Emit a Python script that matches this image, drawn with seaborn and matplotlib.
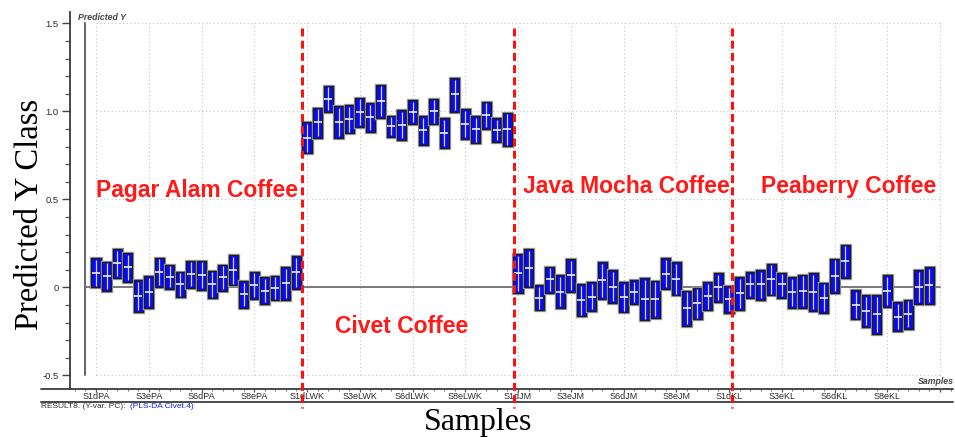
import numpy as np
import pandas as pd
import matplotlib
matplotlib.use("Agg")
import matplotlib.pyplot as plt
import matplotlib.patheffects as pe
from matplotlib.ticker import FixedLocator, MultipleLocator
import seaborn as sns

# ---------------- data ----------------
group_codes = ["PA", "LWK", "JM", "KL"]
group_names = ["Pagar Alam Coffee", "Civet Coffee", "Java Mocha Coffee", "Peaberry Coffee"]
tick_labels = ["S1dPA", "S3ePA", "S6dPA", "S8ePA",
               "S1dLWK", "S3eLWK", "S6dLWK", "S8eLWK",
               "S1dJM", "S3eJM", "S6dJM", "S8eJM",
               "S1dKL", "S3eKL", "S6dKL", "S8eKL", ""]

pa_mid = [0.084, 0.065, 0.137, 0.115, -0.048, -0.024, 0.086, 0.060, 0.022, 0.077,
          0.073, 0.018, 0.058, 0.099, -0.037, 0.014, -0.018, -0.001, 0.027, 0.086]
pa_hi = [0.166, 0.147, 0.217, 0.196, 0.041, 0.065, 0.170, 0.130, 0.090, 0.152,
         0.152, 0.096, 0.130, 0.185, 0.037, 0.090, 0.060, 0.067, 0.115, 0.177]
pa_lo = [0.001, -0.020, 0.056, 0.031, -0.137, -0.115, 0.003, -0.010, -0.056, -0.001,
         -0.014, -0.062, -0.018, 0.012, -0.118, -0.065, -0.094, -0.073, -0.071, -0.008]

lwk_mid = [0.851, 0.939, 1.073, 0.939, 0.957, 0.995, 0.967, 1.058, 0.919, 0.922,
           0.997, 0.893, 1.001, 0.876, 1.099, 0.929, 0.899, 0.980, 0.895, 0.901]
lwk_hi = [0.939, 1.022, 1.147, 1.031, 1.037, 1.078, 1.048, 1.152, 0.976, 1.007,
          1.065, 0.974, 1.073, 0.961, 1.190, 1.014, 0.974, 1.056, 0.963, 0.993]
lwk_lo = [0.762, 0.851, 0.997, 0.848, 0.876, 0.914, 0.884, 0.963, 0.857, 0.838,
          0.929, 0.810, 0.927, 0.791, 0.997, 0.844, 0.819, 0.899, 0.828, 0.802]

jm_mid = [0.080, 0.113, -0.058, 0.046, -0.024, 0.069, -0.071, -0.052, 0.041, 0.005,
          -0.052, -0.027, -0.068, -0.068, 0.079, 0.048, -0.116, -0.088, -0.048, 0.001]
jm_hi = [0.190, 0.219, 0.014, 0.118, 0.069, 0.160, 0.020, 0.029, 0.145, 0.098,
         0.029, 0.043, 0.052, 0.039, 0.166, 0.143, -0.018, -0.001, 0.031, 0.082]
jm_lo = [-0.033, 0.001, -0.130, -0.029, -0.115, -0.026, -0.164, -0.135, -0.067, -0.086,
         -0.141, -0.094, -0.187, -0.171, -0.010, -0.045, -0.219, -0.181, -0.130, -0.084]

kl_mid = [-0.067, -0.029, 0.018, 0.018, 0.048, 0.018, -0.027, -0.020, -0.024, -0.060,
          0.067, 0.149, -0.099, -0.134, -0.152, -0.020, -0.166, -0.152, 0.001, 0.014]
kl_hi = [0.009, 0.060, 0.086, 0.099, 0.135, 0.084, 0.060, 0.073, 0.080, 0.027,
         0.164, 0.243, -0.014, -0.045, -0.045, 0.069, -0.084, -0.069, 0.099, 0.115]
kl_lo = [-0.143, -0.128, -0.058, -0.071, -0.045, -0.058, -0.116, -0.116, -0.134, -0.143,
         -0.031, 0.056, -0.181, -0.223, -0.262, -0.111, -0.247, -0.236, -0.094, -0.092]

mids = [pa_mid, lwk_mid, jm_mid, kl_mid]
his = [pa_hi, lwk_hi, jm_hi, kl_hi]
los = [pa_lo, lwk_lo, jm_lo, kl_lo]

rows = []
for g, code in enumerate(group_codes):
    for k in range(len(mids[g])):
        rows.append(dict(group=code, mid=mids[g][k], hi=his[g][k], lo=los[g][k]))
df = pd.DataFrame(rows)
df["idx"] = np.arange(len(df))

# ---------------- style ----------------
sns.set_style("white")
plt.rcParams["font.family"] = ["Liberation Sans", "DejaVu Sans"]

W, H = 955, 437
fig = plt.figure(figsize=(W / 100, H / 100), dpi=100)
ax_left, ax_right, ax_top, ax_bot = 70, 953, 12, 389
ax = fig.add_axes([ax_left / W, 1 - ax_bot / H, (ax_right - ax_left) / W, (ax_bot - ax_top) / H])

px_per_idx = 10.55
x0 = (ax_left - 96) / px_per_idx
x1 = (ax_right - 96) / px_per_idx
ax.set_xlim(x0, x1)
ax.set_ylim(-0.577, 1.565)

n = len(df)
# grid
grid_x = np.arange(0, n + 1, 5)
ax.vlines(grid_x, -0.5, 1.5, colors="#c4c4c4", linestyles=(0, (1, 2.4)), linewidth=0.8, zorder=1)
ax.hlines([-0.5, 0.5, 1.0, 1.5], 0, n, colors="#c4c4c4", linestyles=(0, (1, 2.4)), linewidth=0.8, zorder=1)
ax.plot([-1.04, n], [0, 0], color="#6e6e6e", lw=1.3, zorder=2)
ax.plot([-1.04, -1.04], [-0.5, 1.5], color="#6a6a6a", lw=1.5, zorder=2)

# boxes
bars = ax.bar(df["idx"], df["hi"] - df["lo"], bottom=df["lo"], width=0.86,
              color="#0a0af2", edgecolor="#1c1c1c", linewidth=1.0, zorder=3)
for b in bars:
    b.set_path_effects([pe.Stroke(linewidth=2.4, foreground="#a0a0a0"), pe.Normal()])
ax.vlines(df["idx"], df["lo"] + 0.01, df["hi"] - 0.01, colors="#cfd8ff", linewidth=0.9, zorder=4)
sns.scatterplot(data=df, x="idx", y="mid", marker="_", s=28, color="#e8eeff",
                linewidth=1.2, zorder=5, legend=False, ax=ax)

# group separators
for xs in [19.5, 39.6, 60.3]:
    ax.plot([xs, xs], [1.474, -0.685], color="#ff1010", lw=2.2,
            linestyle=(0, (2.6, 1.4)), zorder=6, clip_on=False)

# group labels
lab_kw = dict(color="#ff1a1a", fontsize=16.5, fontweight="bold", zorder=7)
ax.text(0, 0.548, group_names[0], ha="left", va="center", **lab_kw)
ax.text(29.0, -0.224, group_names[1], ha="center", va="center", **lab_kw)
ax.text(50.3, 0.571, group_names[2], ha="center", va="center", **lab_kw)
ax.text(71.3, 0.571, group_names[3], ha="center", va="center", **lab_kw)

# axes styling
for s in ["top", "right", "bottom"]:
    ax.spines[s].set_visible(False)
ax.spines["left"].set_color("#3a3a3a")
ax.spines["left"].set_linewidth(1.3)
xl = (41 - ax_left) / (ax_right - ax_left)
y2 = (ax_bot - 402) / (ax_bot - ax_top)
ax.plot([xl, 1], [0, 0], transform=ax.transAxes, color="#4a4a4a", lw=1.4, clip_on=False)
ax.plot([xl, 1], [y2, y2], transform=ax.transAxes, color="#4a4a4a", lw=1.4, clip_on=False)

ax.xaxis.set_major_locator(FixedLocator(grid_x))
ax.set_xticklabels(tick_labels)
ax.xaxis.set_minor_locator(MultipleLocator(1))
ax.tick_params(axis="x", which="major", direction="out", length=2.2, width=0.9, color="#555555",
               labelsize=6.5, labelcolor="#2a2a2a", pad=0.2, bottom=True)
ax.tick_params(axis="x", which="minor", direction="out", length=1.4, width=0.8, color="#777777", bottom=True)

ax.yaxis.set_major_locator(FixedLocator([-0.5, 0, 0.5, 1.0, 1.5]))
ax.set_yticklabels(["-0.5", "0", "0.5", "1.0", "1.5"])
ax.yaxis.set_minor_locator(MultipleLocator(0.1))
ax.tick_params(axis="y", which="major", direction="out", length=6, width=1.0, color="#444444",
               labelsize=6.8, labelcolor="#2a2a2a", pad=2, left=True)
ax.tick_params(axis="y", which="minor", direction="out", length=3.5, width=0.9, color="#555555", left=True)
ax.set_xlabel("")
ax.set_ylabel("")

# small annotations
fig.text(78 / W, 1 - 18 / H, "Predicted Y", fontsize=6.3, fontstyle="italic", fontweight="bold",
         color="#444444", ha="left", va="center")
fig.text(954 / W, 1 - 382 / H, "Samples", fontsize=6.3, fontstyle="italic", fontweight="bold",
         color="#444444", ha="right", va="center")
fig.text(41 / W, 1 - 407 / H, "RESULT8. (Y-var. PC):", fontsize=6.0, color="#333333",
         ha="left", va="center")
fig.text(130 / W, 1 - 407 / H, "(PLS-DA Civet.4)", fontsize=6.0, color="#1a1aff",
         ha="left", va="center")

# big axis titles
fig.text(478 / W, 1 - 430 / H, "Samples", fontsize=23, family="Liberation Serif",
         color="black", ha="center", va="baseline")
fig.text(30 / W, 1 - 214 / H, "Predicted Y Class", fontsize=23.5, family="Liberation Serif",
         color="black", ha="center", va="center", rotation=90)

fig.savefig("out.png", dpi=100)
